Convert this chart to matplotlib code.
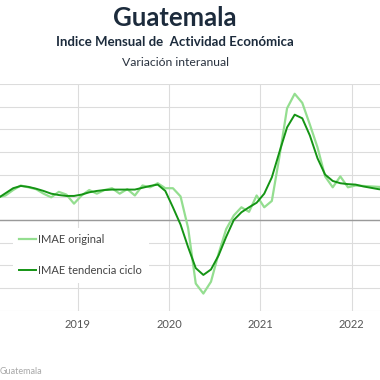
# ================= Import Libraries ==================
import numpy as np
import matplotlib
matplotlib.use("Agg")
import matplotlib.pyplot as plt

plt.rcParams['font.family'] = ['Lato', 'DejaVu Sans']

# ================== Data (variacion interanual, %) ======================
# monthly, Feb 2018 .. May 2022
start_year = 2018
start_month = 2

imae_original = [2.5, 2.7, 3.3, 3.8, 3.6, 3.4, 2.9, 2.5, 3.1, 2.8, 1.8,
                 2.7, 3.3, 2.9, 3.3, 3.5, 2.9, 3.4, 2.7, 3.8, 3.6, 4.05, 3.5,
                 3.5, 2.6, -0.9, -7.0, -8.1, -6.8, -3.7, -1.0, 0.5, 1.4, 0.9, 2.7,
                 1.4, 2.1, 7.0, 12.3, 13.9, 12.9, 10.5, 8.0, 4.8, 3.6, 4.8, 3.6,
                 3.8, 3.75, 3.7, 3.65, 3.6]

imae_tendencia = [2.4, 2.95, 3.5, 3.75, 3.65, 3.45, 3.2, 2.9, 2.75, 2.65, 2.65,
                  2.8, 3.05, 3.2, 3.3, 3.35, 3.35, 3.35, 3.35, 3.55, 3.75, 3.9, 3.2,
                  1.4, -0.5, -3.0, -5.3, -6.05, -5.45, -3.9, -1.85, 0.0, 0.85, 1.4, 1.9,
                  2.9, 4.7, 7.5, 10.2, 11.6, 11.2, 9.3, 6.8, 5.0, 4.3, 4.05, 3.95,
                  3.9, 3.7, 3.55, 3.4, 3.3]

year_ticks = [2018, 2019, 2020, 2021, 2022]

# mid-month positions in decimal years
n = len(imae_original)
months = np.arange(n) + (start_month - 1)
x = start_year + (months + 0.5) / 12

# ================= Plot ======================
fig = plt.figure(figsize=(3.8, 3.8), dpi=100)
W = 380.0
# axis placed so 2018 falls just off the left edge (chart is cropped)
ax = fig.add_axes([-13.5 / W, (380 - 310.8) / W, 410.9 / W, 227 / W])

ax.plot(x, imae_original, color="#94de90", lw=1.6, label="IMAE original", zorder=3)
ax.plot(x, imae_tendencia, color="#149414", lw=1.4, label="IMAE tendencia ciclo", zorder=4)

ax.set_xlim(2018.0, 2022.5)
ax.set_ylim(-10, 15)
ax.set_yticks(np.arange(-10, 15.1, 2.5))
ax.set_xticks(year_ticks)
ax.set_xticklabels([str(y) for y in year_ticks])
ax.tick_params(axis="x", length=0, pad=6, labelsize=8, labelcolor="#555555")
ax.tick_params(axis="y", length=0, labelleft=False)
ax.grid(True, color="#dcdcdc", lw=0.8)
ax.axhline(0, color="#9a9a9a", lw=1.0, zorder=2)
for s in ax.spines.values():
    s.set_visible(False)

leg = ax.legend(loc="upper left", bbox_to_anchor=(7 / W, 1 - 222 / W),
                bbox_transform=fig.transFigure, fontsize=8, frameon=True,
                framealpha=1, edgecolor="none", fancybox=False,
                handlelength=1.5, handletextpad=0.2, labelspacing=1.8,
                borderpad=0.6)
for t in leg.get_texts():
    t.set_color("#444444")

# ================= Titles ======================
fig.text(175 / W, 1 - 18 / W, "Guatemala", ha="center", va="center",
         fontsize=18.5, fontweight="bold", color="#1c2b3c")
fig.text(175 / W, 1 - 41.5 / W, "Indice Mensual de  Actividad Económica", ha="center",
         va="center", fontsize=9.5, fontweight="bold", color="#1c2b3c")
fig.text(175 / W, 1 - 62 / W, "Variación interanual", ha="center", va="center",
         fontsize=8.8, color="#2a3340")
fig.text(0, 1 - 372 / W, "Guatemala", ha="left", va="center",
         fontsize=6.5, color="#a8a8a8")

fig.savefig("out.png", dpi=100)
